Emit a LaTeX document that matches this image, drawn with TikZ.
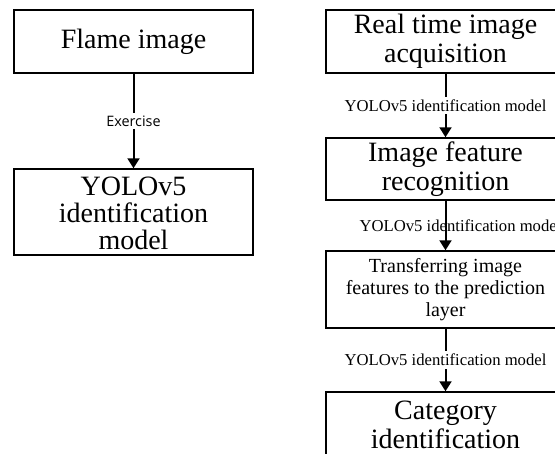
\documentclass[tikz,border=0pt]{standalone}
\usepackage{fontspec}
\setmainfont{Liberation Serif}
\newfontfamily\sanslabel{Open Sans}
\usetikzlibrary{arrows.meta}

\begin{document}
\begin{tikzpicture}[x=0.75pt,y=0.75pt,yscale=-1,xscale=1,
  stepbox/.style={draw, line width=1.1pt, align=center, minimum width=179.25pt, inner sep=0pt},
  bigtext/.style={font=\fontsize{21}{21.5}\selectfont},
  smalltext/.style={font=\fontsize{15}{16.5}\selectfont},
  flowarrow/.style={line width=1.5pt, -{Triangle[width=9pt,length=7.5pt]}},
  arrowlabel/.style={font=\fontsize{12.5}{14}\selectfont, fill=white, inner sep=2pt}]
%set diagram left start at 0, and has height of 453
\useasboundingbox (0,0) rectangle (555,453);
\clip (0,0) rectangle (555,453);

% Text Node
\node[stepbox, bigtext, minimum height=47.25pt] (flame) at (133.5,41.5) {Flame image};
% Text Node
\node[stepbox, minimum height=64.5pt] (yolo) at (133.5,212) {};
\node[font=\fontsize{21}{20}\selectfont, align=center, inner sep=0pt] (yolotext) at (133.5,213.5) {YOLOv5\\identification\\model};
% Text Node
\node[stepbox, bigtext, minimum height=47.25pt] (acquire) at (445.5,41.5) {Real time image\\acquisition};
% Text Node
\node[stepbox, bigtext, minimum height=46.5pt] (feature) at (445.5,169) {Image feature\\recognition};
% Text Node
\node[stepbox, smalltext, minimum height=57.75pt] (transfer) at (445.5,289.5) {Transferring image\\features to the prediction\\layer};
% Text Node
\node[stepbox, bigtext, minimum height=49.5pt] (category) at (445.5,425) {Category\\identification};


%Straight Lines
\draw[flowarrow] (flame) -- (yolo) node[midway, fill=white, inner sep=2pt, font=\sanslabel\fontsize{10.8}{12}\selectfont] (exercise) {Exercise};


%Straight Lines
\draw[flowarrow] (acquire) -- (feature) node[midway, arrowlabel] (model1) {YOLOv5 identification model};


%Straight Lines
\draw[flowarrow] (feature) -- (transfer) node[midway, arrowlabel, fill=none, xshift=11.25pt] (model2) {YOLOv5 identification model};


%Straight Lines
\draw[flowarrow] (transfer) -- (category) node[midway, arrowlabel] (model3) {YOLOv5 identification model};

\end{tikzpicture}
\end{document}
